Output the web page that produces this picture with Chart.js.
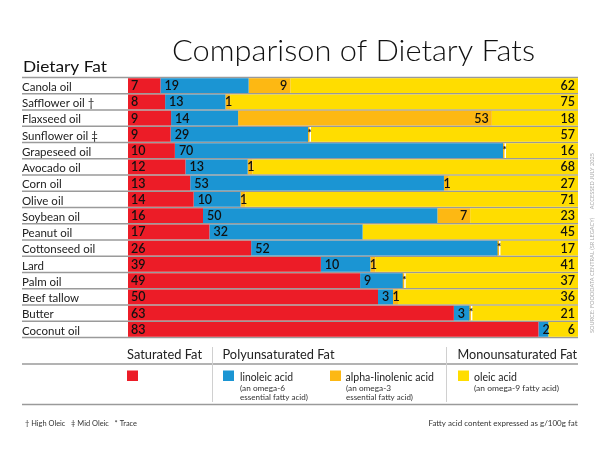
<!DOCTYPE html>
<html><head><meta charset="utf-8">
<script src="https://cdn.jsdelivr.net/npm/chart.js@4/dist/chart.umd.min.js"></script>
<style>html,body{margin:0;padding:0;background:#fff}canvas{display:block}</style>
</head><body>
<canvas id="c" width="600" height="464"></canvas>
<script>
const categories = ['Canola oil','Safflower oil †','Flaxseed oil','Sunflower oil ‡','Grapeseed oil','Avocado oil','Corn oil','Olive oil','Soybean oil','Peanut oil','Cottonseed oil','Lard','Palm oil','Beef tallow','Butter','Coconut oil'];
const saturated      = [7, 8, 9, 9, 10, 12, 13, 14, 16, 17, 26, 39, 49, 50, 63, 83];
const linoleic       = [19, 13, 14, 29, 70, 13, 53, 10, 50, 32, 52, 10, 9, 3, 3, 2];
// 0 = trace (*), null = none
const alphaLinolenic = [9, 1, 53, 0, 0, 1, 1, 1, 7, null, 0, 1, 0, 1, 0, null];
const oleic          = [62, 75, 18, 57, 16, 68, 27, 71, 23, 45, 17, 41, 37, 36, 21, 6];

const seriesNames = ['Saturated Fat','linoleic acid','alpha-linolenic acid','oleic acid'];
const colors = ['#EC1C27','#1B95D3','#FDB813','#FFDD00'];
const rawSeries = [saturated, linoleic, alphaLinolenic, oleic];

const totals = categories.map((_, j) => rawSeries.reduce((s, arr) => s + (arr[j] || 0), 0));
const share = arr => arr.map((v, j) => v === null ? null : v / totals[j] * 100);

const labelFont = '600 12.5px Lato';

function txt(ctx, s, x, y, font, color, align, w) {
  ctx.save();
  ctx.font = font; ctx.fillStyle = color; ctx.textBaseline = 'alphabetic';
  const m = ctx.measureText(s).width;
  const sx = w ? w / m : 1;
  ctx.translate(x, y);
  ctx.scale(sx, 1);
  ctx.textAlign = align || 'left';
  ctx.fillText(s, 0, 0);
  ctx.restore();
}

const gridPlugin = {
  id: 'rowLines',
  beforeDatasetsDraw(chart) {
    const ctx = chart.ctx, ca = chart.chartArea;
    const n = categories.length, rowH = (ca.bottom - ca.top) / n;
    ctx.save();
    ctx.strokeStyle = '#9a9a9a'; ctx.lineWidth = 1.5;
    for (let i = 0; i <= n; i++) {
      const y = ca.top + i * rowH;
      ctx.beginPath(); ctx.moveTo(22, y); ctx.lineTo(ca.right, y); ctx.stroke();
    }
    ctx.restore();
  }
};

const labelPlugin = {
  id: 'segLabels',
  afterDatasetsDraw(chart) {
    const ctx = chart.ctx, ca = chart.chartArea;
    ctx.save();
    chart.data.datasets.forEach((ds, di) => {
      const meta = chart.getDatasetMeta(di);
      const raw = rawSeries[di];
      meta.data.forEach((el, j) => {
        const v = raw[j];
        if (v === null || v === undefined) return;
        const start = Math.min(el.base, el.x), end = Math.max(el.base, el.x);
        ctx.fillStyle = '#111';
        ctx.textBaseline = 'alphabetic';
        if (v === 0) {
          ctx.font = '700 10px Lato'; ctx.textAlign = 'left';
          ctx.fillText('*', (start + end) / 2 - 0.5, el.y + 2);
          return;
        }
        ctx.font = labelFont;
        const s = String(v);
        const yb = el.y + 4.5;
        if (di === 3) { ctx.textAlign = 'right'; ctx.fillText(s, ca.right - 3, yb); }
        else if (di === 2) {
          if (v <= 1) { ctx.textAlign = 'left'; ctx.fillText(s, start - 0.5, yb); }
          else { ctx.textAlign = 'right'; ctx.fillText(s, end - 3, yb); }
        } else { ctx.textAlign = 'left'; ctx.fillText(s, start + (di === 0 ? 3 : 4), yb); }
      });
    });
    ctx.restore();
  }
};

const decorPlugin = {
  id: 'decor',
  afterDraw(chart) {
    const ctx = chart.ctx, ca = chart.chartArea;
    txt(ctx, 'Comparison of Dietary Fats', 172, 60.5, '300 29px Lato', '#111', 'left', 363);
    txt(ctx, 'Dietary Fat', 23, 71.5, '400 15px Lato', '#111', 'left', 84);

    ctx.save();
    ctx.strokeStyle = '#9a9a9a'; ctx.lineWidth = 1.5;
    [364, 404.5].forEach(y => { ctx.beginPath(); ctx.moveTo(22, y); ctx.lineTo(ca.right, y); ctx.stroke(); });
    ctx.strokeStyle = '#d0d0d0'; ctx.lineWidth = 1;
    [212.5, 446.5].forEach(x => { ctx.beginPath(); ctx.moveTo(x, 347); ctx.lineTo(x, 402); ctx.stroke(); });
    ctx.restore();

    const hf = '400 12.5px Lato';
    txt(ctx, 'Saturated Fat', 127, 359, hf, '#222', 'left', 75);
    txt(ctx, 'Polyunsaturated Fat', 222.5, 359, hf, '#222', 'left', 112);
    txt(ctx, 'Monounsaturated Fat', 457.5, 359, hf, '#222', 'left', 119.5);

    const sq = [[127, 0], [223, 1], [330, 2], [458, 3]];
    sq.forEach(([x, i]) => { ctx.fillStyle = colors[i]; ctx.fillRect(x, 370.5, 11, 10.5); });

    const lf = '400 11.5px Lato', sf = '400 7.5px Lato';
    txt(ctx, seriesNames[1], 240, 381, lf, '#222', 'left', 53);
    txt(ctx, '(an omega-6', 240, 390.5, sf, '#333', 'left', 45);
    txt(ctx, 'essential fatty acid)', 240, 399.5, sf, '#333', 'left', 68);
    txt(ctx, seriesNames[2], 345.5, 381, lf, '#222', 'left', 88.5);
    txt(ctx, '(an omega-3', 346, 390.5, sf, '#333', 'left', 45);
    txt(ctx, 'essential fatty acid)', 346, 399.5, sf, '#333', 'left', 67);
    txt(ctx, seriesNames[3], 474, 381, lf, '#222', 'left', 43);
    txt(ctx, '(an omega-9 fatty acid)', 474, 390.5, sf, '#333', 'left', 85);

    txt(ctx, '† High Oleic   ‡ Mid Oleic   * Trace', 25, 426, '400 7px Lato', '#333', 'left', 112);
    txt(ctx, 'Fatty acid content expressed as g/100g fat', 577.5, 426, '400 7.5px Lato', '#333', 'right', 149);

    ctx.save();
    ctx.translate(594, 333);
    ctx.rotate(-Math.PI / 2);
    txt(ctx, 'SOURCE: FOODDATA CENTRAL (SR LEGACY)      ACCESSED JULY 2025', 0, 0, '400 6.5px Lato', '#aaaaaa', 'left', 180);
    ctx.restore();
  }
};

new Chart(document.getElementById('c'), {
  type: 'bar',
  data: {
    labels: categories,
    datasets: rawSeries.map((arr, i) => ({
      label: seriesNames[i],
      data: share(arr),
      backgroundColor: colors[i],
      borderWidth: 0,
      barPercentage: 0.9,
      categoryPercentage: 1,
      minBarLength: i === 2 ? 3 : 0
    }))
  },
  options: {
    indexAxis: 'y',
    responsive: false,
    animation: false,
    layout: { padding: { left: 22, right: 22, top: 77.5, bottom: 126.5 } },
    plugins: { legend: { display: false }, tooltip: { enabled: false }, title: { display: false } },
    scales: {
      x: { stacked: true, min: 0, max: 100, display: false },
      y: {
        stacked: true,
        grid: { display: false },
        border: { display: false },
        afterFit: s => { s.width = 106; },
        ticks: { autoSkip: false, crossAlign: 'far', padding: 0, labelOffset: 1.5, color: '#222', font: { family: 'Lato', size: 11.5, weight: '400' } }
      }
    }
  },
  plugins: [gridPlugin, labelPlugin, decorPlugin]
});
</script>
</body></html>
